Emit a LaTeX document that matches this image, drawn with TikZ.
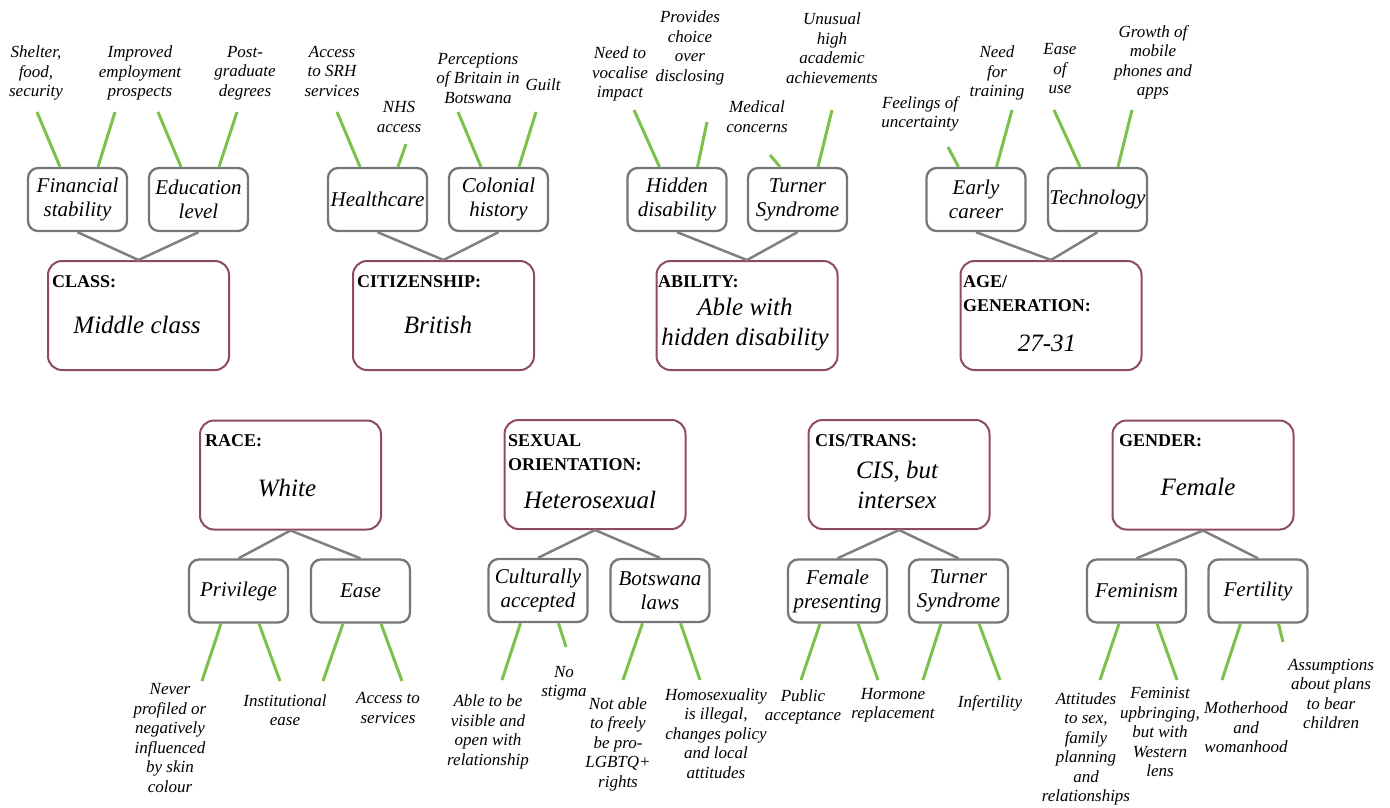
\documentclass[tikz,border=0pt]{standalone}
\usepackage{fontspec}
\setmainfont{Liberation Serif}
\definecolor{frameplum}{HTML}{8E4A63}
\definecolor{boxgray}{HTML}{767676}
\definecolor{linegray}{HTML}{808080}
\definecolor{leafgreen}{HTML}{7BC14B}
\begin{document}
\begin{tikzpicture}[x=1pt,y=-1pt,
  mainbox/.style={draw=frameplum, line width=2pt, rounded corners=14pt,
    minimum width=181pt, minimum height=109pt, inner sep=0pt},
  subbox/.style={draw=boxgray, line width=2.3pt, rounded corners=10pt,
    minimum width=99pt, minimum height=63pt, inner sep=0pt, align=center,
    font=\fontsize{21}{24}\selectfont\itshape},
  leaf/.style={align=center, inner sep=0pt,
    font=\fontsize{17}{19.5}\selectfont\itshape},
  head/.style={anchor=north west, inner sep=0pt, align=left,
    font=\fontsize{18}{24}\selectfont\bfseries},
  value/.style={align=center, inner sep=0pt,
    font=\fontsize{25}{30}\selectfont\itshape},
  trunk/.style={draw=linegray, line width=2.5pt},
  twig/.style={draw=leafgreen, line width=3pt}]
\useasboundingbox (0,0) rectangle (1390,807);

% ---------- top row: category boxes ----------
\node[mainbox] (cls) at (138.5,315.5) {};
\node[mainbox] (cit) at (443.5,315.5) {};
\node[mainbox] (abl) at (747,315.5) {};
\node[mainbox] (age) at (1051,315.5) {};

\node[head] (clsh) at (52,275.5) {CLASS:};
\node[head] (cith) at (357,275.5) {CITIZENSHIP:};
\node[head] (ablh) at (658,275.5) {ABILITY:};
\node[head] (ageh) at (963,275.5) {AGE/\\GENERATION:};

\node[value] (clsv) at (137,325) {Middle class};
\node[value] (citv) at (438,325) {British};
\node[value] (ablv) at (745,325) {Able with\\hidden disability};
\node[value] (agev) at (1047,343) {27-31};

% ---------- top row: sub-themes ----------
\node[subbox] (fin) at (77.5,199.5) {Financial\\stability};
\node[subbox] (edu) at (198.5,199.5) {Education\\level};
\node[subbox] (hc) at (377.5,199.5) {Healthcare};
\node[subbox] (col) at (498.5,199.5) {Colonial\\history};
\node[subbox] (hid) at (677,199.5) {Hidden\\disability};
\node[subbox] (tur) at (797.5,199.5) {Turner\\Syndrome};
\node[subbox] (early) at (976,199.5) {Early\\career};
\node[subbox] (tech) at (1097.5,199.5) {Technology};

\foreach \s/\m in {fin/cls,edu/cls,hc/cit,col/cit,hid/abl,tur/abl,early/age,tech/age}
  \draw[trunk] (\s.south) -- (\m.north);

% ---------- top row: detail labels ----------
\node[leaf] (l1) at (36,73) {Shelter,\\food,\\security};
\node[leaf] (l2) at (140,73) {Improved\\employment\\prospects};
\node[leaf] (l3) at (245,73) {Post-\\graduate\\degrees};
\node[leaf] (l4) at (332,71) {Access\\to SRH\\services};
\node[leaf] (l5) at (399,117) {NHS\\access};
\node[leaf] (l6) at (478,78) {Perceptions\\of Britain in\\Botswana};
\node[leaf] (l7) at (543,85) {Guilt};
\node[leaf] (l8) at (620,74) {Need to\\vocalise\\impact};
\node[leaf] (l9) at (690,48) {Provides\\choice\\over\\disclosing};
\node[leaf] (l10) at (757,116.5) {Medical\\concerns};
\node[leaf] (l11) at (832,48) {Unusual\\high\\academic\\achievements};
\node[leaf] (l12) at (920,114) {Feelings of\\uncertainty};
\node[leaf] (l13) at (997,73) {Need\\for\\training};
\node[leaf] (l14) at (1060,69) {Ease\\of\\use};
\node[leaf] (l15) at (1153,62.5) {Growth of\\mobile\\phones and\\apps};

\foreach \b/\ax/\ay/\bx/\by in {fin/37/112/115/112, edu/158/112/237/112,
    hc/337/112/406/144, col/458/112/536/112, hid/634/110/707/122,
    tur/770/155/832/110, early/948/147/1012/110, tech/1054/110/1132/110}{
  \coordinate (\b-a) at (\ax,\ay);
  \coordinate (\b-b) at (\bx,\by);
  \draw[twig] ([xshift=-17.5pt]\b.north) -- (\b-a);
  \draw[twig] ([xshift=20.5pt]\b.north) -- (\b-b);
}

% ---------- bottom row: category boxes ----------
\node[mainbox] (race) at (290.5,475) {};
\node[mainbox] (sex) at (595,474.5) {};
\node[mainbox] (cis) at (899,474.5) {};
\node[mainbox] (gen) at (1203,475) {};

\node[head] (raceh) at (205,434.5) {RACE:};
\node[head] (sexh) at (508,434.5) {SEXUAL\\ORIENTATION:};
\node[head] (cish) at (815,434.5) {CIS/TRANS:};
\node[head] (genh) at (1119,434.5) {GENDER:};

\node[value] (racev) at (287,488) {White};
\node[value] (sexv) at (590,500) {Heterosexual};
\node[value] (cisv) at (897,485) {CIS, but\\intersex};
\node[value] (genv) at (1198,487) {Female};

% ---------- bottom row: sub-themes ----------
\node[subbox] (priv) at (238.5,591) {Privilege};
\node[subbox] (ease) at (360.5,591) {Ease};
\node[subbox] (cult) at (538,590.5) {Culturally\\accepted};
\node[subbox] (bots) at (660,590.5) {Botswana\\laws};
\node[subbox] (fem) at (837.5,591) {Female\\presenting};
\node[subbox] (tur2) at (958.5,591) {Turner\\Syndrome};
\node[subbox] (femin) at (1136.5,591) {Feminism};
\node[subbox] (fert) at (1258,591) {Fertility};

\foreach \s/\m in {priv/race,ease/race,cult/sex,bots/sex,fem/cis,tur2/cis,femin/gen,fert/gen}
  \draw[trunk] (\m.south) -- (\s.north);

% ---------- bottom row: detail labels ----------
\node[leaf] (m1) at (170,738) {Never\\profiled or\\negatively\\influenced\\by skin\\colour};
\node[leaf] (m2) at (285,710) {Institutional\\ease};
\node[leaf] (m3) at (388,708) {Access to\\services};
\node[leaf] (m4) at (488,732) {Able to be\\visible and\\open with\\relationship};
\node[leaf] (m5) at (564,683) {No\\stigma};
\node[leaf] (m6) at (618,744) {Not able\\to freely\\be pro-\\LGBTQ+\\rights};
\node[leaf] (m7) at (716,733.5) {Homosexuality\\is illegal,\\changes policy\\and local\\attitudes};
\node[leaf] (m8) at (803,707) {Public\\acceptance};
\node[leaf] (m9) at (893,705) {Hormone\\replacement};
\node[leaf] (m10) at (990,703) {Infertility};
\node[leaf] (m11) at (1086,749) {Attitudes\\to sex,\\family\\planning\\and\\relationships};
\node[leaf] (m12) at (1160,732) {Feminist\\upbringing,\\but with\\Western\\lens};
\node[leaf] (m13) at (1246,727.5) {Motherhood\\and\\womanhood};
\node[leaf] (m14) at (1331,694) {Assumptions\\about plans\\to bear\\children};

\foreach \b/\ax/\ay/\bx/\by in {priv/202/681/280/681, ease/323/681/402/681,
    cult/502/680/566/647, bots/623/680/700/680, fem/801/680/878/680,
    tur2/923/680/1000/680, femin/1100/680/1177/680, fert/1222/680/1283/642}{
  \coordinate (\b-a) at (\ax,\ay);
  \coordinate (\b-b) at (\bx,\by);
  \draw[twig] ([xshift=-17.5pt]\b.south) -- (\b-a);
  \draw[twig] ([xshift=20.5pt]\b.south) -- (\b-b);
}
\end{tikzpicture}
\end{document}
